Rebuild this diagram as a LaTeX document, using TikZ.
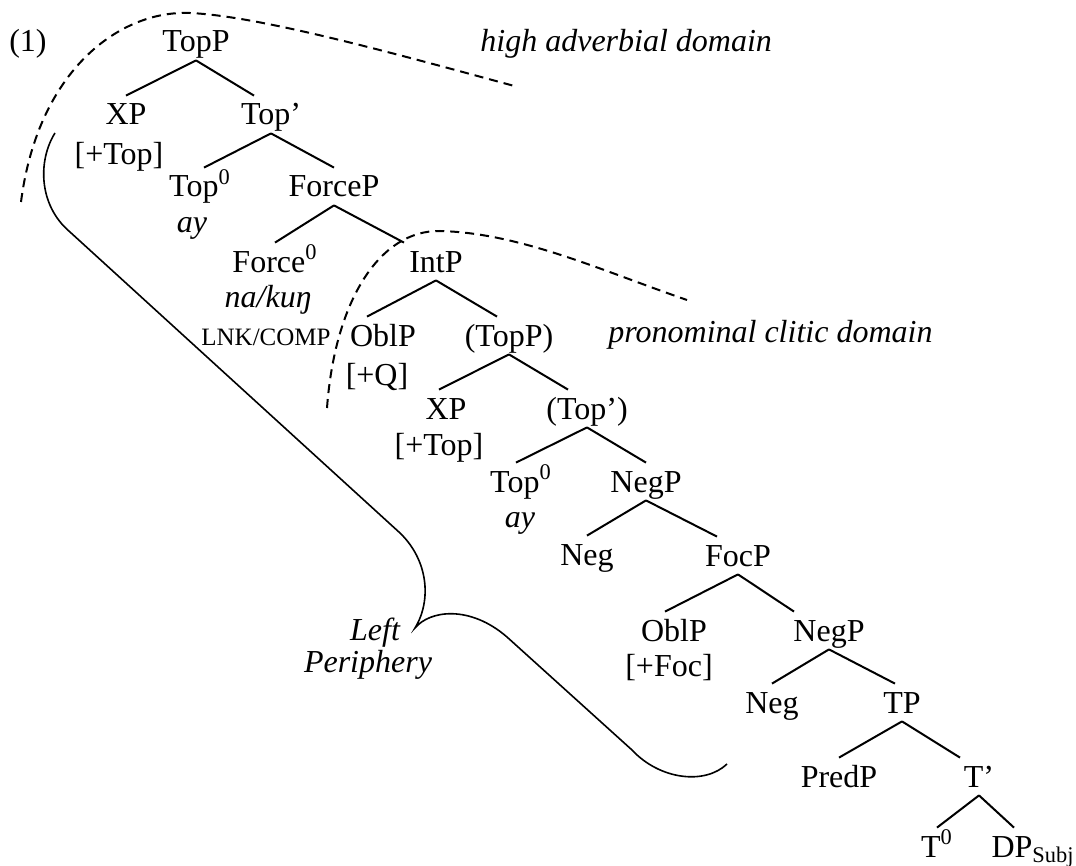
\documentclass[tikz,border=0pt]{standalone}
\usepackage{fontspec}
\setmainfont{Liberation Serif}
\usepackage{tikz}
\usetikzlibrary{positioning}

\begin{document}
\begin{tikzpicture}[x=0.5pt, y=-0.5pt]
    \useasboundingbox (0,0) rectangle (1076,866);
    \tikzstyle{lbl} = [draw=none, inner sep=0, text height=14.5pt, text depth=4pt,
        anchor=base, font=\fontsize{16}{19}\selectfont];
    \tikzstyle{branch} = [draw, line width=1pt];
    \tikzstyle{domainline} = [draw, line width=1pt, dash pattern=on 4.5pt off 3pt];
    \tikzstyle{brace} = [draw, line width=0.8pt];

    % labels
    \node[lbl] at (28,52) (ex) {(1)};
    \node[lbl, anchor=base west] at (480,52) (highdom) {\itshape high adverbial domain};
    \node[lbl, anchor=base west] at (608,343) (clitdom) {\itshape pronominal clitic domain};
    \node[lbl] at (375,640) (left) {\itshape Left};
    \node[lbl] at (368,672) (periph) {\itshape Periphery};

    % tree
    \node[lbl] at (196,52) (topp) {TopP};
    \node[lbl] at (126,125) (xp1) {XP};
    \node[lbl] at (119,165) (xp1f) {[+Top]};
    \node[lbl] at (271,125) (topbar1) {Top’};
    \node[lbl] at (200,197) (top0a) {Top\textsuperscript{0}};
    \node[lbl] at (192,233) (aya) {\itshape ay};
    \node[lbl] at (334,197) (forcep) {ForceP};
    \node[lbl] at (275,272) (force0) {Force\textsuperscript{0}};
    \node[lbl] at (268,307) (nakun) {\itshape na/kuŋ};
    \node[lbl, font=\fontsize{12.5}{15}\selectfont] at (266,345) (lnk) {LNK/COMP};
    \node[lbl] at (436,272) (intp) {IntP};
    \node[lbl] at (383,346) (oblp1) {OblP};
    \node[lbl] at (377,385) (oblp1f) {[+Q]};
    \node[lbl] at (509,346) (topp2) {(TopP)};
    \node[lbl] at (446,419) (xp2) {XP};
    \node[lbl] at (439,455) (xp2f) {[+Top]};
    \node[lbl] at (587,419) (topbar2) {(Top’)};
    \node[lbl] at (521,492) (top0b) {Top\textsuperscript{0}};
    \node[lbl] at (520,527) (ayb) {\itshape ay};
    \node[lbl] at (646,492) (negp1) {NegP};
    \node[lbl] at (587,565) (neg1) {Neg};
    \node[lbl] at (738,566) (focp) {FocP};
    \node[lbl] at (674,641) (oblp2) {OblP};
    \node[lbl] at (669,676) (oblp2f) {[+Foc]};
    \node[lbl] at (829,641) (negp2) {NegP};
    \node[lbl] at (772,713) (neg2) {Neg};
    \node[lbl] at (902,713) (tp) {TP};
    \node[lbl] at (839,787) (predp) {PredP};
    \node[lbl] at (979,787) (tbar) {T’};
    \node[lbl] at (937,857) (t0) {T\textsuperscript{0}};
    \node[lbl] at (1033,857) (dpsubj) {DP\textsubscript{Subj}};

    \path[branch] (topp.south) -- (xp1.north);
    \path[branch] (topp.south) -- ([xshift=-8.5pt]topbar1.north);
    \path[branch] (topbar1.south) -- ([xshift=2pt]top0a.north);
    \path[branch] (topbar1.south) -- (forcep.north);
    \path[branch] (forcep.south) -- (force0.north);
    \path[branch] (forcep.south) -- ([xshift=-16pt]intp.north);
    \path[branch] (intp.south) -- ([xshift=-8pt]oblp1.north);
    \path[branch] (intp.south) -- ([xshift=-6pt]topp2.north);
    \path[branch] (topp2.south) -- ([xshift=-3.5pt]xp2.north);
    \path[branch] (topp2.south) -- ([xshift=-9.5pt]topbar2.north);
    \path[branch] (topbar2.south) -- ([xshift=-2.5pt]top0b.north);
    \path[branch] (topbar2.south) -- (negp1.north);
    \path[branch] (negp1.south) -- (neg1.north);
    \path[branch] (negp1.south) -- ([xshift=-10.5pt]focp.north);
    \path[branch] (focp.south) -- ([xshift=-4.5pt]oblp2.north);
    \path[branch] (focp.south) -- ([xshift=-17.5pt]negp2.north);
    \path[branch] (negp2.south) -- (neg2.north);
    \path[branch] (negp2.south) -- ([xshift=-3.5pt]tp.north);
    \path[branch] (tp.south) -- (predp.north);
    \path[branch] (tp.south) -- ([xshift=-9.5pt]tbar.north);
    \path[branch] (tbar.south) -- (t0.north);
    \path[branch] (tbar.south) -- ([xshift=-9.5pt]dpsubj.north);

    % domains
    \path[domainline] (21,202) .. controls (38,70) and (120,10) .. (190,13)
        .. controls (260,16) and (400,55) .. (518,87);
    \path[domainline] (327,408) .. controls (335,300) and (380,230) .. (440,231)
        .. controls (520,233) and (600,270) .. (687,300);
    \path[brace] (55,133) .. controls (38,160) and (38,205) .. (70,232) -- (400,533)
        .. controls (428,560) and (432,600) .. (415,628)
        .. controls (430,610) and (470,605) .. (507,637) -- (632,750)
        .. controls (660,780) and (705,785) .. (727,764);
\end{tikzpicture}
\end{document}
